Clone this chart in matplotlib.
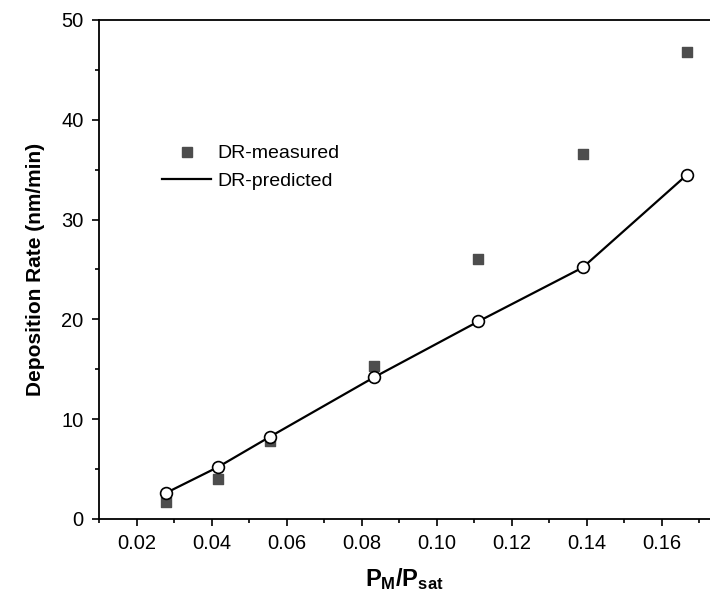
import matplotlib
matplotlib.use("Agg")
from matplotlib import pyplot as plt
from matplotlib.lines import Line2D
from matplotlib.ticker import MultipleLocator

# P_M / P_sat values
ratio = [0.0278, 0.0417, 0.0556, 0.0833, 0.1111, 0.1389, 0.1667]
measured = [1.7, 4.0, 7.85, 15.3, 26.1, 36.6, 46.8]
predicted = [2.6, 5.2, 8.25, 14.2, 19.8, 25.2, 34.5]

plt.rcParams['font.family'] = ['Liberation Sans', 'DejaVu Sans']
plt.rcParams['mathtext.fontset'] = 'custom'
plt.rcParams['mathtext.rm'] = 'Liberation Sans'
plt.rcParams['mathtext.bf'] = 'Liberation Sans:bold'
plt.rcParams['mathtext.it'] = 'Liberation Sans:italic'

fig = plt.figure(figsize=(7.1, 6.02), dpi=100)
ax = fig.add_axes([0.1394, 0.1379, 1 - 0.1394, 0.9668 - 0.1379])

ax.scatter(ratio, measured, marker='s', s=52, color='#4d4d4d', zorder=2)
ax.plot(ratio, predicted, color='black', lw=1.6, zorder=3,
        marker='o', markersize=8.5, markerfacecolor='white',
        markeredgecolor='black', markeredgewidth=1.2)

ax.set_xlim(0.01, 0.1728)
ax.set_ylim(0, 50)

ax.xaxis.set_major_locator(MultipleLocator(0.02))
ax.xaxis.set_minor_locator(MultipleLocator(0.01))
ax.yaxis.set_major_locator(MultipleLocator(10))
ax.yaxis.set_minor_locator(MultipleLocator(5))
ax.xaxis.set_major_formatter(plt.FuncFormatter(lambda v, p: f"{v:.2f}"))

ax.tick_params(which='major', direction='out', length=5, width=1.2,
               labelsize=14.5, pad=6)
ax.tick_params(which='minor', direction='out', length=3, width=1.2)
ax.tick_params(top=False, right=False)

for side in ['left', 'bottom', 'top']:
    ax.spines[side].set_linewidth(1.3)
ax.spines['right'].set_visible(False)

ax.set_xlabel(r"$\mathbf{P_M/P_{sat}}$", fontsize=17, labelpad=9)
ax.set_ylabel("Deposition Rate (nm/min)", fontsize=15, fontweight='bold',
              labelpad=12)

handles = [
    Line2D([], [], linestyle='none', marker='s', markersize=7,
           color='#4d4d4d'),
    Line2D([], [], color='black', lw=1.6),
]
ax.legend(handles, ["DR-measured", "DR-predicted"], loc='upper left',
          bbox_to_anchor=(0.075, 0.785), frameon=False, fontsize=14,
          handlelength=2.5, handletextpad=0.35, labelspacing=0.52)

fig.savefig("out.png", dpi=100)
